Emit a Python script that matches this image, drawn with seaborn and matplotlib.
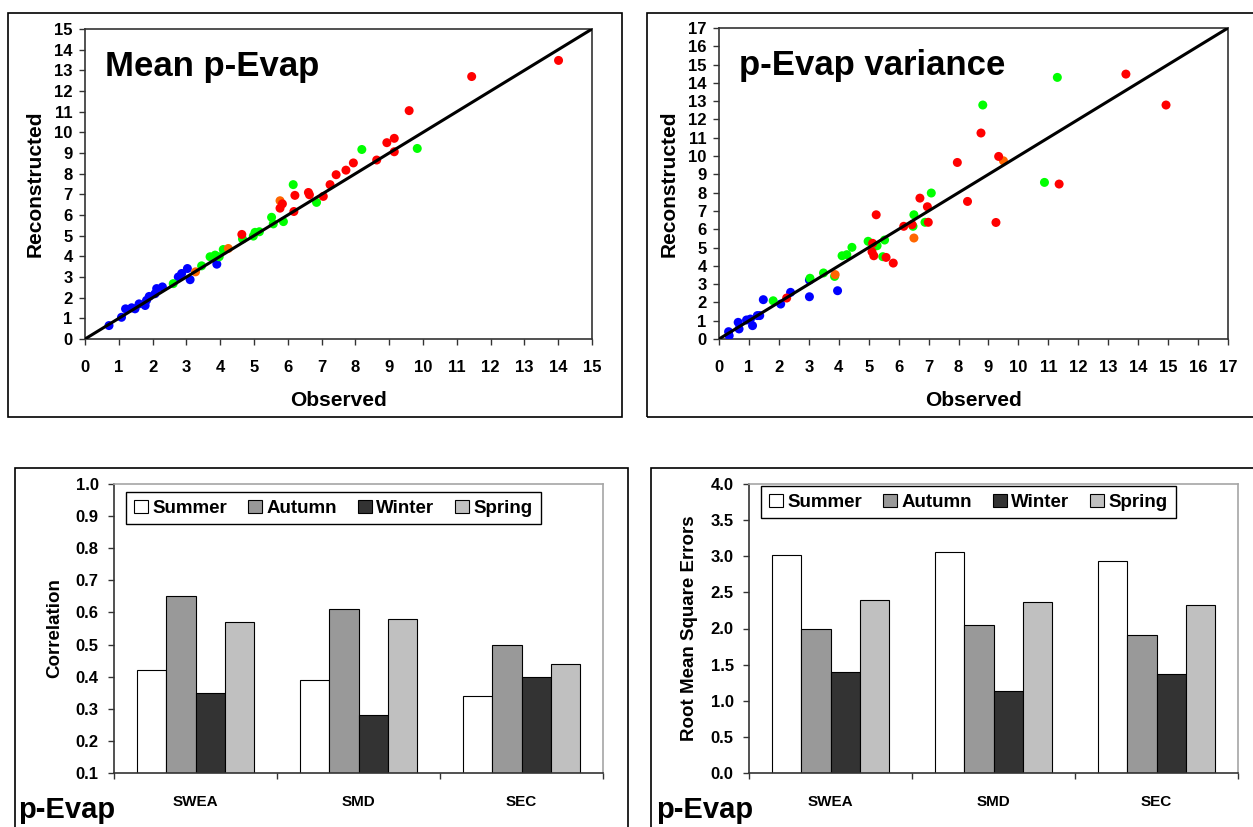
import numpy as np
import pandas as pd
import matplotlib
matplotlib.use("Agg")
import matplotlib.pyplot as plt
import seaborn as sns
from matplotlib.patches import Rectangle

# --- scatter data: Mean p-Evap (observed vs reconstructed)
mean_obs = [0.71, 1.08, 1.20, 1.38, 1.48, 1.60, 1.78, 1.82, 1.90, 2.07, 2.12, 2.29, 2.76, 2.86, 3.03, 3.11, 3.90,
            2.61, 3.45, 3.70, 3.85, 3.97, 4.09, 4.66, 4.98, 5.03, 5.16, 5.52, 5.57, 5.87, 6.16, 6.85, 8.19, 9.83,
            3.27, 4.24, 5.77,
            4.64, 5.77, 5.84, 6.18, 6.21, 6.61, 6.64, 7.05, 7.25, 7.43, 7.72, 7.94, 8.63, 8.93, 9.15, 9.15, 9.59,
            11.44, 14.01]
mean_rec = [0.65, 1.05, 1.46, 1.51, 1.46, 1.70, 1.62, 1.87, 2.06, 2.19, 2.44, 2.52, 3.00, 3.17, 3.41, 2.87, 3.62,
            2.68, 3.54, 3.98, 4.06, 3.98, 4.33, 4.84, 4.98, 5.16, 5.19, 5.89, 5.57, 5.68, 7.47, 6.61, 9.17, 9.22,
            3.25, 4.38, 6.69,
            5.06, 6.33, 6.54, 6.17, 6.95, 7.09, 6.98, 6.90, 7.47, 7.95, 8.17, 8.52, 8.66, 9.50, 9.71, 9.06, 11.05,
            12.70, 13.48]
mean_grp = ["blue"] * 17 + ["green"] * 17 + ["orange"] * 3 + ["red"] * 19

# --- scatter data: p-Evap variance
var_obs = [0.32, 0.34, 0.64, 0.67, 0.92, 1.05, 1.12, 1.28, 1.36, 1.48, 2.06, 2.39, 3.02, 3.02, 3.96,
           1.81, 3.04, 3.49, 3.86, 4.11, 4.27, 4.44, 4.98, 5.28, 5.47, 5.53, 6.51, 6.48, 6.88, 7.09, 8.81, 10.87, 11.30,
           3.88, 6.51, 9.50,
           2.26, 5.11, 5.17, 5.13, 5.25, 5.58, 5.82, 6.17, 6.45, 6.71, 6.96, 6.99, 7.96, 8.30, 8.75, 9.34, 9.25,
           11.36, 13.59, 14.93]
var_rec = [0.40, 0.18, 0.91, 0.55, 1.04, 1.09, 0.73, 1.28, 1.28, 2.15, 1.91, 2.55, 3.22, 2.31, 2.64,
           2.09, 3.32, 3.61, 3.42, 4.55, 4.61, 5.01, 5.34, 5.10, 4.50, 5.41, 6.79, 6.16, 6.38, 7.98, 12.79, 8.56, 14.30,
           3.52, 5.52, 9.74,
           2.24, 4.77, 4.55, 5.23, 6.79, 4.46, 4.15, 6.16, 6.25, 7.70, 7.23, 6.38, 9.65, 7.52, 11.26, 9.98, 6.37,
           8.47, 14.48, 12.79]
var_grp = ["blue"] * 15 + ["green"] * 18 + ["orange"] * 3 + ["red"] * 20

point_colors = {"blue": "#0000FF", "green": "#00FF00", "orange": "#FF6600", "red": "#FF0000"}

# --- bar data
regions = ["SWEA", "SMD", "SEC"]
seasons = ["Summer", "Autumn", "Winter", "Spring"]
season_colors = ["#FFFFFF", "#999999", "#333333", "#C0C0C0"]
corr_summer = [0.42, 0.39, 0.34]
corr_autumn = [0.65, 0.61, 0.50]
corr_winter = [0.35, 0.28, 0.40]
corr_spring = [0.57, 0.58, 0.44]
rmse_summer = [3.02, 3.06, 2.93]
rmse_autumn = [2.00, 2.05, 1.91]
rmse_winter = [1.40, 1.14, 1.37]
rmse_spring = [2.39, 2.36, 2.33]

sns.set_style("white")
plt.rcParams["font.family"] = ["Liberation Sans", "DejaVu Sans"]
plt.rcParams["font.weight"] = "bold"
plt.rcParams["text.color"] = "black"
plt.rcParams["axes.labelcolor"] = "black"
plt.rcParams["xtick.color"] = "black"
plt.rcParams["ytick.color"] = "black"

W, H = 1253, 827
fig = plt.figure(figsize=(W / 100, H / 100), dpi=100)


def px_axes(l, t, r, b):
    return fig.add_axes([l / W, 1 - b / H, (r - l) / W, (b - t) / H])


def frame(l, t, r, b):
    fig.add_artist(Rectangle((l / W, 1 - b / H), (r - l) / W, (b - t) / H, transform=fig.transFigure,
                             fill=False, ec="black", lw=1.2))


frame(8, 13, 622, 417)
frame(647, 13, 1270, 417)
frame(15, 468, 628, 850)
frame(651, 468, 1270, 850)


def scatter_panel(ax, obs, rec, grp, lim, title):
    df = pd.DataFrame({"Observed": obs, "Reconstructed": rec, "grp": grp})
    sns.scatterplot(data=df, x="Observed", y="Reconstructed", hue="grp", palette=point_colors,
                    s=42, linewidth=0, legend=False, ax=ax, zorder=3)
    ax.plot([0, lim], [0, lim], color="black", lw=2.2, zorder=4)
    ax.set_xlim(0, lim)
    ax.set_ylim(0, lim)
    ax.set_xticks(range(lim + 1))
    ax.set_yticks(range(lim + 1))
    ax.tick_params(direction="out", length=4, width=1, color="#333333", labelsize=12,
                   bottom=True, left=True)
    ax.tick_params(axis="x", pad=11)
    ax.tick_params(axis="y", pad=5)
    for lab in ax.get_xticklabels() + ax.get_yticklabels():
        lab.set_fontweight("bold")
    for s in ax.spines.values():
        s.set_color("#333333")
        s.set_linewidth(1.2)
    ax.set_xlabel("Observed", fontsize=15, fontweight="bold", labelpad=12)
    ax.set_ylabel("Reconstructed", fontsize=15, fontweight="bold", labelpad=7)
    ax.text(0.04, 0.85, title, transform=ax.transAxes, fontsize=25, fontweight="bold", va="baseline")


ax1 = px_axes(85, 29, 592, 339)
scatter_panel(ax1, mean_obs, mean_rec, mean_grp, 15, "Mean p-Evap")
ax2 = px_axes(719, 28, 1228, 339)
scatter_panel(ax2, var_obs, var_rec, var_grp, 17, "p-Evap variance")


def bar_panel(ax, vals, ylim, step, ylabel, leg_anchor):
    df = pd.DataFrame({
        "region": regions * 4,
        "season": [s for s in seasons for _ in regions],
        "value": [v for series in vals for v in series],
    })
    sns.barplot(data=df, x="region", y="value", hue="season", hue_order=seasons, palette=season_colors,
                width=0.72, gap=0, edgecolor="black", linewidth=0.8, ax=ax, legend=True)
    ax.set_xlim(-0.5, 2.5)
    ax.set_ylim(*ylim)
    ax.set_yticks(np.arange(ylim[0], ylim[1] + step / 2, step))
    ax.set_yticklabels([f"{t:.1f}" for t in ax.get_yticks()], fontsize=12, fontweight="bold")
    ax.set_xticks([0, 1, 2])
    ax.set_xticklabels(regions, fontsize=11, fontweight="bold")
    ax.tick_params(axis="x", which="major", length=0, pad=16)
    ax.set_xticks([-0.5, 0.5, 1.5, 2.5], minor=True)
    ax.tick_params(axis="x", which="minor", direction="out", length=4, width=1, color="#333333", bottom=True)
    ax.tick_params(axis="y", direction="out", length=4, width=1, color="#333333", left=True, pad=7)
    ax.spines["top"].set_color("#A6A6A6")
    ax.spines["right"].set_color("#A6A6A6")
    ax.spines["left"].set_color("#333333")
    ax.spines["bottom"].set_color("#333333")
    for s in ax.spines.values():
        s.set_linewidth(1.2)
    ax.set_xlabel("")
    ax.set_ylabel(ylabel, fontsize=13.5, fontweight="bold", labelpad=9)
    handles, labels = ax.get_legend_handles_labels()
    leg = ax.legend(handles, labels, ncol=4, loc="upper left", bbox_to_anchor=leg_anchor, borderaxespad=0,
                    fancybox=False, edgecolor="black", framealpha=1, prop={"size": 13.5, "weight": "bold"},
                    handlelength=0.75, handleheight=0.75, handletextpad=0.25, columnspacing=1.1,
                    borderpad=0.4)
    leg.get_frame().set_linewidth(1)


ax3 = px_axes(114, 484, 603, 773)
bar_panel(ax3, [corr_summer, corr_autumn, corr_winter, corr_spring], (0.1, 1.0), 0.1, "Correlation",
          (0.025, 0.972))
ax4 = px_axes(749, 484, 1238, 773)
bar_panel(ax4, [rmse_summer, rmse_autumn, rmse_winter, rmse_spring], (0.0, 4.0), 0.5, "Root Mean Square Errors",
          (0.025, 0.993))

fig.text(18 / W, 1 - 818 / H, "p-Evap", fontsize=21, fontweight="bold", va="baseline")
fig.text(656 / W, 1 - 818 / H, "p-Evap", fontsize=21, fontweight="bold", va="baseline")

fig.savefig("out.png", dpi=100)
